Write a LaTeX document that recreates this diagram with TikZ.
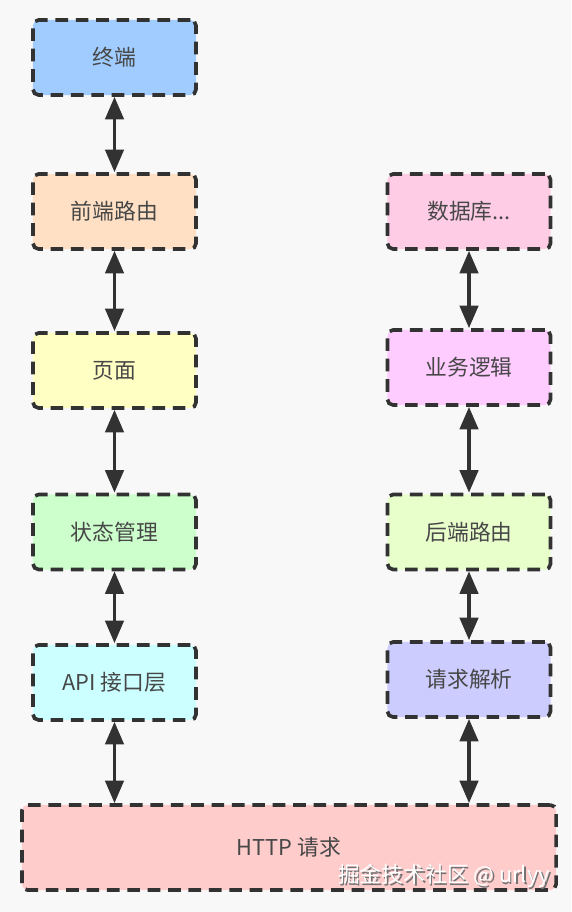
\documentclass[tikz,border=0pt]{standalone}
\usepackage{fontspec}
\setmainfont{Noto Sans CJK SC}
\usetikzlibrary{arrows.meta}

\definecolor{bgcol}{RGB}{248,248,248}
\definecolor{termcol}{RGB}{160,204,255}
\definecolor{frcol}{RGB}{255,224,196}
\definecolor{pagecol}{RGB}{255,255,196}
\definecolor{statecol}{RGB}{204,255,204}
\definecolor{apicol}{RGB}{204,255,255}
\definecolor{dbcol}{RGB}{255,204,230}
\definecolor{bizcol}{RGB}{255,204,255}
\definecolor{brcol}{RGB}{232,255,204}
\definecolor{reqcol}{RGB}{204,204,255}
\definecolor{httpcol}{RGB}{255,204,204}
\definecolor{edgecol}{RGB}{50,50,50}

\tikzset{
	layer/.style={draw=edgecol, line width=2.6pt, dash pattern=on 9pt off 5.5pt,
		rounded corners=4pt, minimum width=4.075cm, minimum height=1.875cm,
		text=black!72, font=\fontsize{15.5}{18}\selectfont},
	link/.style={{Triangle[width=13pt,length=16pt]}-{Triangle[width=13pt,length=16pt]},
		line width=2.5pt, edgecol},
}

\begin{document}
\begin{tikzpicture}[x=0.025cm, y=-0.025cm]
	\fill[bgcol] (0,0) rectangle (571,912);
	\useasboundingbox (0,0) rectangle (571,912);
	
	% front end
	\node[layer, fill=termcol] (term) at (114.5,57.5) {终端};
	\node[layer, fill=frcol] (froute) at (114.5,211.5) {前端路由};
	\node[layer, fill=pagecol] (page) at (114.5,370.5) {页面};
	\node[layer, fill=statecol] (state) at (114.5,532) {状态管理};
	\node[layer, fill=apicol] (api) at (114.5,682.5) {API 接口层};
	
	% back end
	\node[layer, fill=dbcol] (db) at (469,211.5) {数据库...};
	\node[layer, fill=bizcol] (biz) at (469,367.5) {业务逻辑};
	\node[layer, fill=brcol] (broute) at (469,532) {后端路由};
	\node[layer, fill=reqcol] (req) at (469,679.5) {请求解析};
	
	\node[layer, fill=httpcol, minimum width=13.35cm, minimum height=2.125cm] (http) at (289,847.5) {HTTP 请求};
	
	\draw[link] (term) -- (froute);
	\draw[link] (froute) -- (page);
	\draw[link] (page) -- (state);
	\draw[link] (state) -- (api);
	\draw[link] (api.south) -- (api.south |- http.north);
	
	\draw[link] (db) -- (biz);
	\draw[link] (biz) -- (broute);
	\draw[link] (broute) -- (req);
	\draw[link] (req.south) -- (req.south |- http.north);
	
	% watermark
	\node[text=black!55, font=\fontsize{15.5}{18}\selectfont] (markshadow) at (445.5,877.5) {掘金技术社区 @ urlyy};
	\node[text=white, font=\fontsize{15.5}{18}\selectfont] (mark) at (444,876) {掘金技术社区 @ urlyy};
\end{tikzpicture}
\end{document}
